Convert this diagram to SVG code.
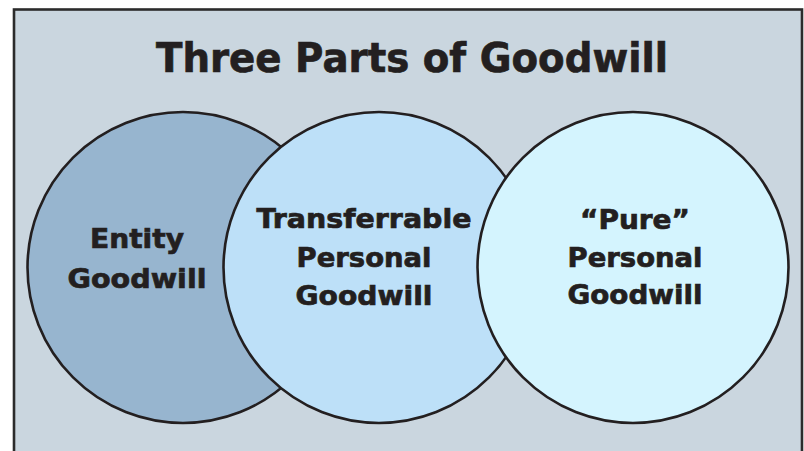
<svg xmlns="http://www.w3.org/2000/svg" width="804" height="451" viewBox="0 0 804 451">
<style>
.c{stroke:#231f20;stroke-width:2.6}
.t{font-family:"DejaVu Sans",sans-serif;font-weight:bold;fill:#231f20;stroke:#231f20;stroke-width:0.7;text-anchor:middle}
.l{font-size:27px}
</style>
<rect width="804" height="451" fill="#ffffff"/>
<rect x="14" y="9.5" width="788" height="460" fill="#cad6df" stroke="#2b2b2b" stroke-width="2.6"/>
<text class="t" x="412" y="72" font-size="40" stroke-width="1.1" textLength="512" lengthAdjust="spacingAndGlyphs">Three Parts of Goodwill</text>
<g id="entity">
<circle class="c" cx="183" cy="267.5" r="155.5" fill="#97b5cf"/>
<text class="t l" x="137" y="248" textLength="94" lengthAdjust="spacingAndGlyphs">Entity</text>
<text class="t l" x="137" y="288" textLength="139" lengthAdjust="spacingAndGlyphs">Goodwill</text>
</g>
<g id="transferrable">
<circle class="c" cx="379" cy="267.5" r="155.5" fill="#bde0f8"/>
<text class="t l" x="364" y="228" textLength="215" lengthAdjust="spacingAndGlyphs">Transferrable</text>
<text class="t l" x="364" y="267" textLength="135" lengthAdjust="spacingAndGlyphs">Personal</text>
<text class="t l" x="364" y="305" textLength="137" lengthAdjust="spacingAndGlyphs">Goodwill</text>
</g>
<g id="pure">
<circle class="c" cx="633" cy="267.5" r="155.5" fill="#d4f4fe"/>
<text class="t l" x="635" y="229" textLength="110" lengthAdjust="spacingAndGlyphs">“Pure”</text>
<text class="t l" x="635" y="267" textLength="135" lengthAdjust="spacingAndGlyphs">Personal</text>
<text class="t l" x="635" y="304" textLength="135" lengthAdjust="spacingAndGlyphs">Goodwill</text>
</g>
<g id="connectors"/>
</svg>
